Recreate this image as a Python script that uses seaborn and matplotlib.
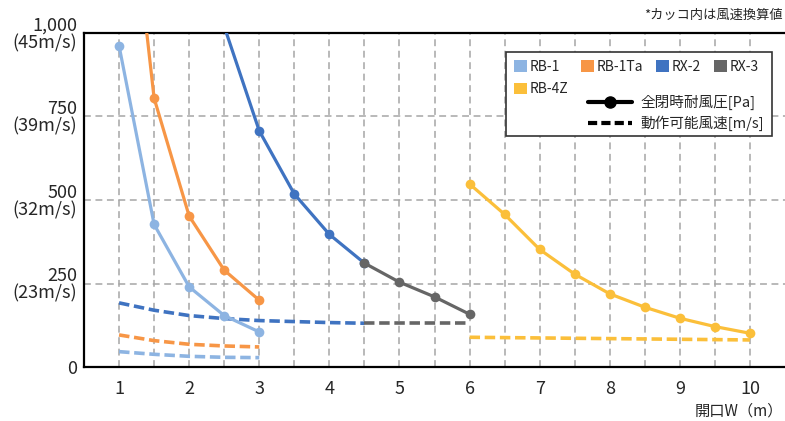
import numpy as np
import matplotlib
matplotlib.use("Agg")
import matplotlib.pyplot as plt
from matplotlib.patches import Patch, Rectangle
from matplotlib.lines import Line2D
import seaborn as sns

# データ（開口W[m]ごとの全閉時耐風圧[Pa]と動作可能風速）
w_rb1 = [1, 1.5, 2, 2.5, 3]
p_rb1 = [962, 427, 240, 154, 105]
v_rb1 = [46, 38, 32, 29, 28]

w_rb1ta = [1, 1.5, 2, 2.5, 3]
p_rb1ta = [1740, 805, 452, 290, 200]
v_rb1ta = [96, 79, 68, 63, 60]

w_rx2 = [2.5, 3, 3.5, 4, 4.5]
p_rx2 = [1020, 707, 518, 397, 311]
w_rx2_v = [1, 1.5, 2, 2.5, 3, 3.5, 4, 4.5]
v_rx2 = [192, 170, 154, 145, 139, 136, 133, 131]

w_rx3 = [4.5, 5, 5.5, 6]
p_rx3 = [311, 254, 210, 158]
v_rx3 = [131, 131, 131, 131]

w_rb4z = [6, 6.5, 7, 7.5, 8, 8.5, 9, 9.5, 10]
p_rb4z = [548, 457, 352, 278, 219, 179, 146, 121, 101]
v_rb4z = [89, 88, 87, 86, 85, 84, 83, 82, 81]

y_ticks = [0, 250, 500, 750, 1000]
y_labels = ["0", "250\n(23m/s)", "500\n(32m/s)", "750\n(39m/s)", "1,000\n(45m/s)"]

COLORES = {
    "RB-1": "#8DB4E2",
    "RB-1Ta": "#F79646",
    "RX-2": "#3F73C1",
    "RX-3": "#666666",
    "RB-4Z": "#FBBF3A",
}

sns.set_style("white")
plt.rcParams['font.family'] = ['Noto Sans CJK JP', 'DejaVu Sans']

fig = plt.figure(figsize=(7.85, 4.21), dpi=100)
ax = fig.add_axes([84 / 785, 1 - 367 / 421, 701 / 785, 334 / 421])

dash = (0, (2.9, 1.3))
# 動作可能風速（破線）
for w, v, k in [(w_rb1, v_rb1, "RB-1"), (w_rb1ta, v_rb1ta, "RB-1Ta"), (w_rx2_v, v_rx2, "RX-2"),
                (w_rx3, v_rx3, "RX-3"), (w_rb4z, v_rb4z, "RB-4Z")]:
    sns.lineplot(x=w, y=v, color=COLORES[k], linewidth=2.6, linestyle=dash, ax=ax, zorder=3)

# 全閉時耐風圧（実線＋マーカー）
for w, p, k in [(w_rb1ta, p_rb1ta, "RB-1Ta"), (w_rx2, p_rx2, "RX-2"), (w_rx3, p_rx3, "RX-3"),
                (w_rb1, p_rb1, "RB-1"), (w_rb4z, p_rb4z, "RB-4Z")]:
    sns.lineplot(x=w, y=p, color=COLORES[k], linewidth=2.3, marker="o", markersize=7,
                 markeredgewidth=0, ax=ax, zorder=4)

ax.set_xlim(0.5, 10.5)
ax.set_ylim(0, 1000)
ax.set_xticks(range(1, 11))
ax.set_xticks(np.arange(1.5, 10, 1.0), minor=True)
ax.set_yticks(y_ticks)
ax.set_yticklabels(y_labels, fontsize=13, linespacing=0.95)
ax.tick_params(axis="x", which="major", labelsize=13, length=0, pad=9)
ax.tick_params(axis="y", length=0, pad=5)
ax.tick_params(which="minor", length=0)
ax.grid(True, which="both", axis="x", color="#A6A6A6", linestyle=(0, (4.5, 3)), linewidth=1.1)
ax.grid(True, which="major", axis="y", color="#A6A6A6", linestyle=(0, (4.5, 3)), linewidth=1.1)
ax.set_xlabel("")
ax.set_ylabel("")
for s in ["left", "bottom", "top"]:
    ax.spines[s].set_color("black")
    ax.spines[s].set_linewidth(1.6)
ax.spines["right"].set_visible(False)

# 凡例の枠
ax.add_patch(Rectangle((506 / 785, 1 - 136 / 421), 266 / 785, 84 / 421, transform=fig.transFigure,
                       facecolor="white", edgecolor="#333333", linewidth=1.2, zorder=6, clip_on=False))

orden = ["RB-1", "RB-4Z", "RB-1Ta", "RX-2", "RX-3"]
handles = [Patch(facecolor=COLORES[k], edgecolor="none") for k in orden]
leg1 = ax.legend(handles, orden, ncol=4, frameon=False, fontsize=10, loc="upper left",
                 bbox_to_anchor=(514 / 785, 1 - 60 / 421), bbox_transform=fig.transFigure,
                 borderpad=0, borderaxespad=0, handlelength=0.95, handleheight=0.9,
                 handletextpad=0.2, columnspacing=0.9, labelspacing=0.6)
leg1.set_zorder(7)
ax.add_artist(leg1)

lineas = [Line2D([], [], color="black", linewidth=3, marker="o", markersize=8),
          Line2D([], [], color="black", linewidth=3, linestyle=(0, (2.2, 1.0)))]
leg2 = ax.legend(lineas, ["全閉時耐風圧[Pa]", "動作可能風速[m/s]"], frameon=False, fontsize=10.5,
                 loc="upper left", bbox_to_anchor=(588 / 785, 1 - 95 / 421), bbox_transform=fig.transFigure,
                 borderpad=0, borderaxespad=0, handlelength=3.0, handletextpad=0.6, labelspacing=0.35)
leg2.set_zorder(7)

fig.text(783 / 785, 1 - 15 / 421, "*カッコ内は風速換算値", ha="right", va="center", fontsize=9.5)
fig.text(0.997, 1 - 411 / 421, "開口W（m）", ha="right", va="center", fontsize=11)

fig.savefig("out.png", dpi=100)
